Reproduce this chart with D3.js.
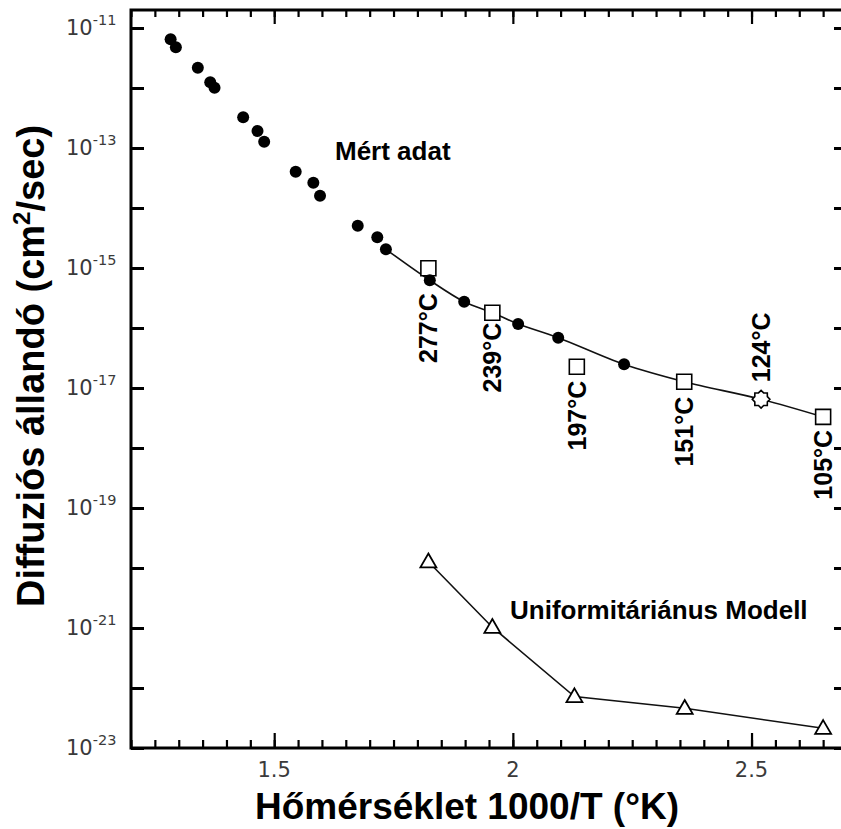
<!DOCTYPE html>
<html>
<head>
<meta charset="utf-8">
<script src="https://cdn.jsdelivr.net/npm/d3@7"></script>
<style>
  body { margin: 0; background: #fff; }
  svg { display: block; }
</style>
</head>
<body>
<div id="chart"></div>
<script>
// measured diffusion constants (filled dots), x = 1000/T
const measuredX = [1.283, 1.294, 1.340, 1.366, 1.375, 1.435, 1.465, 1.479, 1.545, 1.582, 1.596, 1.675, 1.716, 1.734, 1.826, 1.898, 2.011, 2.095, 2.233]
const measuredD = [6.48e-12, 4.77e-12, 2.18e-12, 1.245e-12, 1.01e-12, 3.25e-13, 1.92e-13, 1.27e-13, 4.03e-14, 2.64e-14, 1.6e-14, 5.07e-15, 3.25e-15, 2.05e-15, 6.24e-16, 2.74e-16, 1.17e-16, 6.9e-17, 2.48e-17]

// labelled temperature points (open squares, 124°C is the star)
const tempLabels = ['277°C', '239°C', '197°C', '151°C', '124°C', '105°C']
const tempX = [1.823, 1.957, 2.134, 2.359, 2.520, 2.650]
const tempD = [9.9e-16, 1.8e-16, 2.26e-17, 1.27e-17, 6.5e-18, 3.3e-18]

// fitted curve through the low temperature data
const fitX = [1.734, 1.826, 1.898, 1.957, 2.011, 2.095, 2.233, 2.359, 2.520, 2.650]
const fitD = [2.05e-15, 6.24e-16, 2.74e-16, 1.8e-16, 1.17e-16, 6.9e-17, 2.48e-17, 1.27e-17, 6.5e-18, 3.3e-18]

// uniformitarian model (open triangles)
const modelX = [1.823, 1.957, 2.129, 2.360, 2.650]
const modelD = [1.27e-20, 1.03e-21, 7.2e-23, 4.6e-23, 2.13e-23]

// axis ticks
const xMajorTicks = [1.5, 2, 2.5]
const yDecades = [-23, -22, -21, -20, -19, -18, -17, -16, -15, -14, -13, -12, -11]
const yLabelExps = [-11, -13, -15, -17, -19, -21, -23]

const W = 841
const H = 829
const boldFont = '"Liberation Sans", Arial, sans-serif'
const tickFont = '"DejaVu Sans", Verdana, sans-serif'

const svg = d3.select('#chart')
    .append('svg')
    .attr('width', W)
    .attr('height', H)

svg.append('rect')
    .attr('width', W)
    .attr('height', H)
    .attr('fill', '#fff')

// scales, right edge of the frame falls just outside the picture
const x = d3.scaleLinear()
    .domain([1.2, 2.7])
    .range([131, 847])

const y = d3.scaleLog()
    .domain([1e-23, Math.pow(10, -10.7)])
    .range([748, 10])

// minor and major ticks, bottom and top
const xMinor = x.ticks(30)

const addXAxis = (gen, ty, values, size) => {
    const g = svg.append('g')
        .attr('transform', `translate(0,${ty})`)
        .call(gen(x).tickValues(values).tickSize(size).tickSizeOuter(0).tickFormat(''))
    g.select('.domain').remove()
    g.selectAll('.tick line').attr('stroke', '#000').attr('stroke-width', 2.2)
    return g
}
addXAxis(d3.axisBottom, 748, xMinor, -8)
addXAxis(d3.axisBottom, 748, xMajorTicks, -15)
addXAxis(d3.axisTop, 10, xMinor, -7)
addXAxis(d3.axisTop, 10, xMajorTicks, -14)

// x tick labels
svg.selectAll('.xlab')
    .data(xMajorTicks)
    .enter()
    .append('text')
    .attr('class', 'xlab')
    .attr('x', d => x(d))
    .attr('y', 777)
    .attr('text-anchor', 'middle')
    .attr('font-family', tickFont)
    .attr('font-size', 21)
    .attr('fill', '#3a3a3a')
    .text(d => d)

// y ticks on both sides
const addYAxis = (gen, tx) => {
    const g = svg.append('g')
        .attr('transform', `translate(${tx},0)`)
        .call(gen(y).tickValues(yDecades.map(e => Math.pow(10, e))).tickSize(-13).tickSizeOuter(0).tickFormat(''))
    g.select('.domain').remove()
    g.selectAll('.tick line').attr('stroke', '#000').attr('stroke-width', 3)
}
addYAxis(d3.axisLeft, 131)
addYAxis(d3.axisRight, 847)

// y tick labels as 10 with superscript exponent
const yLab = svg.selectAll('.ylab')
    .data(yLabelExps)
    .enter()
    .append('text')
    .attr('class', 'ylab')
    .attr('x', 66)
    .attr('y', d => y(Math.pow(10, d)) + 7)
    .attr('font-family', tickFont)
    .attr('font-size', 21)
    .attr('fill', '#3a3a3a')

yLab.append('tspan').text('10')
yLab.append('tspan')
    .attr('dy', -10)
    .attr('font-size', 14.5)
    .text(d => d)

// frame
svg.append('rect')
    .attr('x', 131)
    .attr('y', 10)
    .attr('width', 847 - 131)
    .attr('height', 748 - 10)
    .attr('fill', 'none')
    .attr('stroke', '#000')
    .attr('stroke-width', 3)

// fitted curve
const fitLine = d3.line()
    .x(d => x(d[0]))
    .y(d => y(d[1]))
    .curve(d3.curveCatmullRom)

svg.append('path')
    .datum(fitX.map((v, i) => [v, fitD[i]]))
    .attr('d', fitLine)
    .attr('fill', 'none')
    .attr('stroke', '#111')
    .attr('stroke-width', 1.6)

// model line and triangles
const modelLine = d3.line()
    .x(d => x(d[0]))
    .y(d => y(d[1]))

const modelData = modelX.map((v, i) => [v, modelD[i]])

svg.append('path')
    .datum(modelData)
    .attr('d', modelLine)
    .attr('fill', 'none')
    .attr('stroke', '#111')
    .attr('stroke-width', 1.6)

svg.selectAll('.tri')
    .data(modelData)
    .enter()
    .append('path')
    .attr('class', 'tri')
    .attr('transform', d => `translate(${x(d[0])},${y(d[1]) + 1})`)
    .attr('d', d3.symbol(d3.symbolTriangle, 110))
    .attr('fill', '#fff')
    .attr('stroke', '#000')
    .attr('stroke-width', 1.8)

// labelled temperature markers
const tempData = tempX.map((v, i) => ({ label: tempLabels[i], x: v, d: tempD[i] }))

// star shaped marker for 124°C
const starPath = d3.lineRadial()
    .angle(d => d[0])
    .radius(d => d[1])
    .curve(d3.curveLinearClosed)(d3.range(16).map(i => [i * Math.PI / 8, i % 2 ? 6.8 : 8.8]))

svg.selectAll('.temp')
    .data(tempData)
    .enter()
    .append('path')
    .attr('class', 'temp')
    .attr('transform', d => `translate(${x(d.x)},${y(d.d)})`)
    .attr('d', d => d.label == '124°C' ? starPath : d3.symbol(d3.symbolSquare, 225)())
    .attr('fill', '#fff')
    .attr('stroke', '#000')
    .attr('stroke-width', 1.6)

// measured dots on top
svg.selectAll('.dot')
    .data(measuredX.map((v, i) => [v, measuredD[i]]))
    .enter()
    .append('circle')
    .attr('class', 'dot')
    .attr('cx', d => x(d[0]))
    .attr('cy', d => y(d[1]))
    .attr('r', 6)
    .attr('fill', '#000')

// rotated temperature labels, gap from marker (negative = above)
const labelGap = { '277°C': 25, '239°C': 10, '197°C': 14, '151°C': 15, '124°C': -17, '105°C': 13 }

svg.selectAll('.tlab')
    .data(tempData)
    .enter()
    .append('text')
    .attr('class', 'tlab')
    .attr('transform', d => `translate(${x(d.x) + 9},${y(d.d) + labelGap[d.label]}) rotate(-90)`)
    .attr('text-anchor', d => labelGap[d.label] > 0 ? 'end' : 'start')
    .attr('font-family', boldFont)
    .attr('font-weight', 'bold')
    .attr('font-size', 25)
    .text(d => d.label)

// series annotations
svg.append('text')
    .attr('x', 335)
    .attr('y', 160)
    .attr('font-family', boldFont)
    .attr('font-weight', 'bold')
    .attr('font-size', 26)
    .text('Mért adat')

svg.append('text')
    .attr('x', 510)
    .attr('y', 619)
    .attr('font-family', boldFont)
    .attr('font-weight', 'bold')
    .attr('font-size', 26)
    .text('Uniformitáriánus Modell')

// axis titles
svg.append('text')
    .attr('x', 467)
    .attr('y', 819)
    .attr('text-anchor', 'middle')
    .attr('font-family', boldFont)
    .attr('font-weight', 'bold')
    .attr('font-size', 37)
    .text('Hőmérséklet 1000/T (°K)')

const yTitle = svg.append('text')
    .attr('transform', 'translate(44,366) rotate(-90)')
    .attr('text-anchor', 'middle')
    .attr('font-family', boldFont)
    .attr('font-weight', 'bold')
    .attr('font-size', 38)

yTitle.append('tspan').text('Diffuziós állandó (cm')
yTitle.append('tspan').attr('dy', -14).attr('font-size', 24).text('2')
yTitle.append('tspan').attr('dy', 14).text('/sec)')
</script>
</body>
</html>
